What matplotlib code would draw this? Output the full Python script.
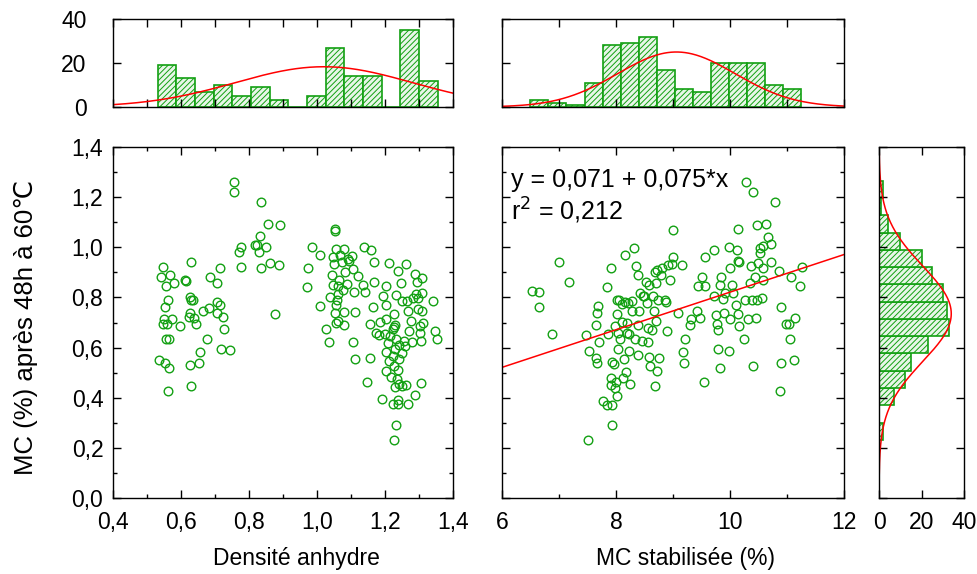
import matplotlib
matplotlib.use('Agg')
import matplotlib.pyplot as plt
from matplotlib.ticker import MultipleLocator, FuncFormatter
import numpy as np

plt.rcParams['font.family'] = ['Liberation Sans', 'DejaVu Sans']
plt.rcParams['hatch.linewidth'] = 0.7

# scatter: densite anhydre vs MC apres 48h
dens_x = [0.546, 0.542, 0.569, 0.557, 0.580, 0.561, 0.554, 0.549, 0.572, 0.548,
          0.558, 0.556, 0.566, 0.535, 0.554, 0.566, 0.561, 0.598, 0.611, 0.615,
          0.628, 0.627, 0.629, 0.635, 0.627, 0.623, 0.639, 0.644, 0.625, 0.628,
          0.654, 0.657, 0.676, 0.666, 0.681, 0.684, 0.706, 0.705, 0.714, 0.706,
          0.716, 0.723, 0.725, 0.718, 0.745, 0.755, 0.755, 0.770, 0.775, 0.775,
          0.819, 0.824, 0.831, 0.830, 0.850, 0.835, 0.855, 0.892, 0.835, 0.861,
          0.888, 0.875,
          0.970, 0.974, 0.984, 1.010, 1.010, 1.025, 1.036, 1.052, 1.052, 1.046,
          1.049, 1.057, 1.078, 1.069, 1.073, 1.090, 1.103, 1.093, 1.106, 1.083,
          1.044, 1.065, 1.046, 1.063, 1.088, 1.076, 1.061, 1.059, 1.039, 1.055,
          1.052, 1.079, 1.056, 1.061, 1.078, 1.113, 1.110, 1.120, 1.137, 1.159,
          1.169, 1.134, 1.142, 1.169, 1.165, 1.155, 1.106, 1.113, 1.155, 1.147,
          1.186, 1.194, 1.203, 1.203, 1.213, 1.237, 1.263, 1.248, 1.287, 1.309,
          1.294, 1.310, 1.232, 1.250, 1.265, 1.281, 1.292, 1.296, 1.341, 1.225,
          1.230, 1.225, 1.223, 1.202, 1.172, 1.181, 1.201, 1.216, 1.208, 1.233,
          1.240, 1.255, 1.279, 1.306, 1.267, 1.275, 1.296, 1.309, 1.312, 1.302,
          1.270, 1.304, 1.346, 1.353, 1.204, 1.224, 1.240, 1.251, 1.260, 1.230,
          1.213, 1.227, 1.237, 1.204, 1.218, 1.235, 1.241, 1.230, 1.250, 1.263,
          1.307, 1.191, 1.223, 1.237, 1.238, 1.267, 1.287, 1.232, 1.225]
dens_y = [0.923, 0.883, 0.889, 0.846, 0.857, 0.791, 0.762, 0.715, 0.715, 0.696,
          0.696, 0.635, 0.635, 0.550, 0.538, 0.519, 0.428, 0.688, 0.870, 0.864,
          0.943, 0.802, 0.791, 0.791, 0.738, 0.723, 0.716, 0.696, 0.530, 0.448,
          0.540, 0.584, 0.635, 0.745, 0.758, 0.883, 0.857, 0.781, 0.771, 0.738,
          0.919, 0.723, 0.676, 0.596, 0.589, 1.262, 1.220, 0.981, 1.000, 0.923,
          1.011, 1.009, 1.044, 0.980, 1.002, 1.180, 1.094, 1.088, 0.916, 0.936,
          0.928, 0.732,
          0.841, 0.919, 1.000, 0.968, 0.767, 0.675, 0.622, 1.071, 1.065, 0.963,
          0.932, 0.993, 0.993, 0.969, 0.943, 0.953, 0.967, 0.947, 0.912, 0.903,
          0.890, 0.870, 0.850, 0.844, 0.853, 0.831, 0.812, 0.791, 0.802, 0.769,
          0.738, 0.741, 0.700, 0.705, 0.692, 0.741, 0.821, 0.887, 1.002, 0.989,
          0.943, 0.848, 0.821, 0.861, 0.761, 0.696, 0.622, 0.554, 0.559, 0.464,
          0.701, 0.804, 0.771, 0.847, 0.939, 0.907, 0.932, 0.857, 0.893, 0.877,
          0.860, 0.818, 0.808, 0.787, 0.787, 0.798, 0.814, 0.798, 0.787, 0.732,
          0.692, 0.683, 0.676, 0.712, 0.657, 0.649, 0.655, 0.646, 0.620, 0.635,
          0.609, 0.626, 0.622, 0.626, 0.745, 0.705, 0.752, 0.745, 0.699, 0.659,
          0.666, 0.686, 0.666, 0.635, 0.583, 0.567, 0.556, 0.580, 0.606, 0.596,
          0.547, 0.527, 0.510, 0.505, 0.481, 0.475, 0.455, 0.442, 0.448, 0.452,
          0.459, 0.395, 0.373, 0.389, 0.373, 0.373, 0.409, 0.293, 0.231]

# scatter: MC stabilisee vs MC apres 48h
mcs_x = [6.520, 6.642, 6.642, 6.992, 7.168, 6.882, 7.471, 7.506, 7.530, 7.646,
         7.664, 7.652, 7.664, 7.681, 7.705, 7.851, 7.909, 7.868, 7.927, 7.967,
         7.909, 7.915, 7.979, 8.014, 7.932, 7.781, 7.839, 7.938, 8.002, 8.026,
         8.049, 8.014, 7.991, 8.037, 8.072, 8.037, 8.113, 8.102, 8.160, 8.160,
         8.189, 8.189, 8.148, 8.172, 8.131, 8.248, 8.224, 8.236, 8.218, 8.277,
         8.277, 8.324, 8.353, 8.382, 8.399, 8.417, 8.394, 8.394, 8.335, 8.452,
         8.469, 8.528, 8.493, 8.540, 8.563, 8.569, 8.575, 8.598, 8.580, 8.627,
         8.656, 8.674, 8.686, 8.697, 8.726, 8.744, 8.697, 8.715, 8.686, 8.761,
         8.791, 8.814, 8.861, 8.872, 8.890, 8.907, 8.948, 8.977, 9.007, 9.007,
         9.094, 9.153, 9.211, 9.182, 9.199, 9.298, 9.316, 9.415, 9.474, 9.444,
         9.514, 9.561, 9.561, 9.549, 9.719, 9.719, 9.748, 9.766, 9.783, 9.795,
         9.824, 9.824, 9.841, 9.882, 9.900, 9.911, 9.987, 9.987, 9.999, 9.999,
         10.040, 10.057, 10.098, 10.116, 10.133, 10.145, 10.145, 10.162, 10.162, 10.250,
         10.279, 10.262, 10.320, 10.349, 10.384, 10.378, 10.408, 10.408, 10.437, 10.466,
         10.454, 10.466, 10.495, 10.524, 10.524, 10.554, 10.583, 10.583, 10.583, 10.641,
         10.676, 10.729, 10.729, 10.787, 10.863, 10.886, 10.904, 10.904, 10.980, 11.032,
         11.061, 11.079, 11.126, 11.149, 11.225, 11.260]
mcs_y = [0.824, 0.820, 0.761, 0.941, 0.860, 0.655, 0.649, 0.231, 0.585, 0.560,
         0.538, 0.692, 0.738, 0.767, 0.622, 0.841, 0.916, 0.653, 0.543, 0.533,
         0.478, 0.451, 0.438, 0.406, 0.290, 0.387, 0.369, 0.372, 0.461, 0.791,
         0.791, 0.732, 0.686, 0.659, 0.633, 0.593, 0.701, 0.774, 0.969, 0.781,
         0.699, 0.659, 0.554, 0.504, 0.477, 0.455, 0.587, 0.655, 0.778, 0.785,
         0.745, 0.998, 0.926, 0.891, 0.745, 0.817, 0.692, 0.570, 0.633, 0.626,
         0.804, 0.861, 0.804, 0.778, 0.679, 0.622, 0.564, 0.527, 0.848, 0.672,
         0.804, 0.745, 0.903, 0.857, 0.910, 0.791, 0.705, 0.508, 0.448, 0.560,
         0.890, 0.916, 0.791, 0.781, 0.666, 0.930, 0.868, 0.934, 0.963, 1.068,
         0.736, 0.930, 0.633, 0.583, 0.538, 0.692, 0.712, 0.745, 0.719, 0.844,
         0.881, 0.844, 0.963, 0.461, 0.989, 0.804, 0.728, 0.696, 0.672, 0.593,
         0.517, 0.849, 0.883, 0.794, 0.738, 0.817, 1.002, 0.585, 0.916, 0.712,
         0.850, 0.817, 0.771, 0.989, 0.947, 1.071, 0.732, 0.686, 0.943, 0.633,
         1.259, 0.791, 0.715, 0.857, 0.791, 0.926, 1.220, 0.527, 0.883, 0.791,
         0.719, 1.088, 0.936, 0.996, 0.976, 0.798, 1.005, 0.916, 0.870, 1.094,
         1.042, 1.015, 0.943, 1.179, 0.905, 0.428, 0.761, 0.538, 0.695, 0.695,
         0.633, 0.883, 0.550, 0.716, 0.844, 0.923]

# histograms (bin start, bin width, counts)
dens_bin0, dens_binw = 0.531, 0.0549
dens_counts = [19, 13, 7, 10, 5, 9, 3, 0, 5, 27, 14, 14, 0, 35, 12]
mcs_bin0, mcs_binw = 6.50, 0.316
mcs_counts = [3, 2, 1, 11, 28, 29, 32, 17, 8, 7, 20, 20, 20, 10, 8]
mc48_bin0, mc48_binw = 0.232, 0.0689
mc48_counts = [2, 0, 7, 12, 15, 23, 33, 32, 30, 25, 20, 10, 4, 1, 2]

# fitted normal curves (mean, sd, peak height)
dens_fit = (1.02, 0.26, 18.3)
mcs_fit = (9.06, 1.03, 25.0)
mc48_fit = (0.735, 0.19, 34.0)

# regression MC48 = a + b * MCstab
reg_a, reg_b = 0.071, 0.075

green = '#12a012'
barface = '#e8f6e8'
red = '#ff0000'
TICK_FS = 16.5
XLABEL_FS = 16.5
YLABEL_FS = 18.5


def comma(v, pos):
    s = '%g' % v if abs(v - round(v)) < 1e-9 else '%.1f' % v
    return s.replace('.', ',')


def onedec(v, pos):
    return ('%.1f' % v).replace('.', ',')


def normal(x, fit):
    m, s, h = fit
    return h * np.exp(-0.5 * ((x - m) / s) ** 2)


def box(ax, ypad=7):
    ax.tick_params(direction='in', which='both', top=True, right=True,
                   labelsize=TICK_FS, width=1, color='black')
    ax.tick_params(which='major', length=6)
    ax.tick_params(which='minor', length=3)
    ax.xaxis.set_tick_params(which='both', pad=9)
    ax.yaxis.set_tick_params(which='both', pad=ypad)
    for sp in ax.spines.values():
        sp.set_linewidth(1)
        sp.set_color('black')


fig = plt.figure(figsize=(9.77, 5.74), dpi=100)

# main panels
ax1 = fig.add_axes([0.1157, 0.1324, 0.348, 0.6115])
ax2 = fig.add_axes([0.5138, 0.1324, 0.350, 0.6115])
# marginal histograms
axt1 = fig.add_axes([0.1157, 0.8136, 0.348, 0.1533])
axt2 = fig.add_axes([0.5138, 0.8136, 0.350, 0.1533])
axr = fig.add_axes([0.8997, 0.1324, 0.087, 0.6115])

# left scatter
ax1.plot(dens_x, dens_y, 'o', ms=6.2, mfc='none', mec=green, mew=1.0)
ax1.set_xlim(0.4, 1.4)
ax1.set_ylim(0.0, 1.4)
ax1.xaxis.set_major_locator(MultipleLocator(0.2))
ax1.xaxis.set_minor_locator(MultipleLocator(0.1))
ax1.yaxis.set_major_locator(MultipleLocator(0.2))
ax1.yaxis.set_minor_locator(MultipleLocator(0.1))
ax1.xaxis.set_major_formatter(FuncFormatter(onedec))
ax1.yaxis.set_major_formatter(FuncFormatter(onedec))
box(ax1)
ax1.set_xlabel('Densité anhydre', fontsize=XLABEL_FS, labelpad=10)
ax1.set_ylabel('MC (%) après 48h à 60℃', fontsize=YLABEL_FS, labelpad=24)
# labels sit a little off-centre in the original
ax1.xaxis.label.set_x(0.54)
ax1.yaxis.label.set_y(0.485)

# middle scatter with regression line
ax2.plot(mcs_x, mcs_y, 'o', ms=6.2, mfc='none', mec=green, mew=1.0)
xl = np.array([6, 12])
ax2.plot(xl, reg_a + reg_b * xl, color=red, lw=1.1)
ax2.set_xlim(6, 12)
ax2.set_ylim(0.0, 1.4)
ax2.xaxis.set_major_locator(MultipleLocator(2))
ax2.xaxis.set_minor_locator(MultipleLocator(1))
ax2.yaxis.set_major_locator(MultipleLocator(0.2))
ax2.yaxis.set_minor_locator(MultipleLocator(0.1))
ax2.xaxis.set_major_formatter(FuncFormatter(comma))
box(ax2)
ax2.tick_params(labelleft=False)
ax2.set_xlabel('MC stabilisée (%)', fontsize=XLABEL_FS, labelpad=10)
ax2.xaxis.label.set_x(0.538)
ax2.text(0.025, 0.906, 'y = 0,071 + 0,075*x', transform=ax2.transAxes,
         fontsize=18, va='center', ha='left')
ax2.text(0.025, 0.818, 'r$^2$ = 0,212', transform=ax2.transAxes,
         fontsize=18, va='center', ha='left')

# top left histogram
edges = dens_bin0 + dens_binw * np.arange(len(dens_counts))
axt1.bar(edges, dens_counts, width=dens_binw, align='edge', color=barface,
         edgecolor=green, hatch='//////', lw=1.2)
xx = np.linspace(0.4, 1.4, 300)
axt1.plot(xx, normal(xx, dens_fit), color=red, lw=1.1)
axt1.set_xlim(0.4, 1.4)
axt1.set_ylim(0, 40)
axt1.xaxis.set_major_locator(MultipleLocator(0.1))
axt1.yaxis.set_major_locator(MultipleLocator(20))
box(axt1, ypad=19)
axt1.tick_params(labelbottom=False)

# top middle histogram
edges = mcs_bin0 + mcs_binw * np.arange(len(mcs_counts))
axt2.bar(edges, mcs_counts, width=mcs_binw, align='edge', color=barface,
         edgecolor=green, hatch='//////', lw=1.2)
xx = np.linspace(6, 12, 300)
axt2.plot(xx, normal(xx, mcs_fit), color=red, lw=1.1)
axt2.set_xlim(6, 12)
axt2.set_ylim(0, 40)
axt2.xaxis.set_major_locator(MultipleLocator(1))
axt2.yaxis.set_major_locator(MultipleLocator(20))
box(axt2)
axt2.tick_params(labelbottom=False, labelleft=False)

# right histogram
edges = mc48_bin0 + mc48_binw * np.arange(len(mc48_counts))
axr.barh(edges, mc48_counts, height=mc48_binw, align='edge', color=barface,
         edgecolor=green, hatch='//////', lw=1.2)
yy = np.linspace(0, 1.4, 300)
axr.plot(normal(yy, mc48_fit), yy, color=red, lw=1.1)
axr.set_xlim(0, 40)
axr.set_ylim(0, 1.4)
axr.xaxis.set_major_locator(MultipleLocator(20))
axr.yaxis.set_major_locator(MultipleLocator(0.2))
box(axr)
axr.tick_params(labelleft=False)

plt.savefig('out.png', dpi=100)
